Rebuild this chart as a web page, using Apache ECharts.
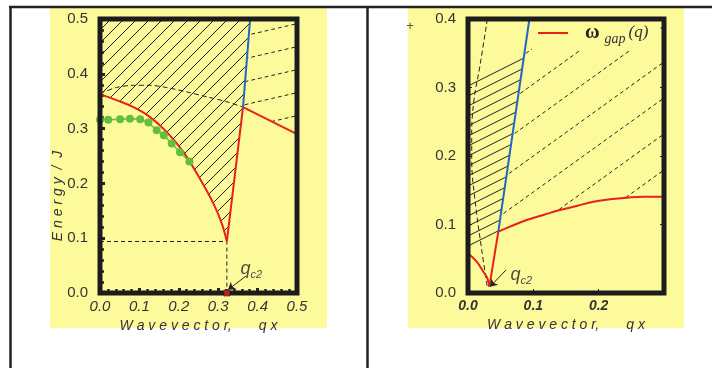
<!DOCTYPE html>
<html>
<head>
<meta charset="utf-8">
<script src="https://cdn.jsdelivr.net/npm/echarts@6/dist/echarts.min.js"></script>
<style>
  html, body { margin: 0; padding: 0; background: #fff; }
  #chart { width: 712px; height: 368px; }
</style>
</head>
<body>
<div id="chart"></div>
<script>
// ---- left panel: qx 0..0.5, energy 0..0.5 ----
const gapLeft = [[0, 0.363], [0.042, 0.352], [0.085, 0.339], [0.127, 0.321], [0.169, 0.294], [0.211, 0.258],
  [0.254, 0.208], [0.288, 0.163], [0.309, 0.127], [0.322, 0.094], [0.363, 0.339], [0.5, 0.29]];
const blueLeft = [[0.363, 0.339], [0.381, 0.5]];
const dashLeft = [[0, 0.364], [0.042, 0.375], [0.085, 0.379], [0.127, 0.379], [0.169, 0.375], [0.22, 0.367],
  [0.271, 0.358], [0.322, 0.349], [0.363, 0.339]];
const greenQ = [0, 0.021, 0.051, 0.076, 0.102, 0.123, 0.144, 0.162, 0.182, 0.203, 0.227];
const greenE = [0.316, 0.316, 0.317, 0.318, 0.317, 0.311, 0.297, 0.288, 0.273, 0.257, 0.240];
const qc2Left = [0.322, 0.094];
const arrowLeft = [[0.3706, 0.031], [0.325, 0.006]];
const labelLeft = [0.3553, 0.0438];

// ---- right panel: qx 0..0.3, energy 0..0.4 ----
const gapRight = [[0, 0.058], [0.0133, 0.0457], [0.0235, 0.0311], [0.0296, 0.0215], [0.0327, 0.0092],
  [0.0464, 0.0895], [0.0643, 0.0968], [0.0898, 0.1066], [0.1153, 0.1139], [0.1408, 0.1212], [0.1664, 0.127],
  [0.1918, 0.1333], [0.2173, 0.1368], [0.2429, 0.1392], [0.2684, 0.1406], [0.3, 0.1406]];
const blueRight = [[0.0464, 0.0895], [0.094, 0.4]];
const dashRight = [[0.0296, 0.4], [0.018, 0.33], [0.0092, 0.282], [0.0057, 0.233], [0.0057, 0.194],
  [0.0107, 0.136], [0.021, 0.063], [0.0295, 0.009]];
const hatchRight = [[0, 0.058], [0.0446, 0.0788], [0.0464, 0.0895], [0.0866, 0.3514], [0, 0.311]];
const arrowRight = [[0.0582, 0.0336], [0.0337, 0.0092]];
const labelRight = [0.0643, 0.0263];

const YELLOW = "#fdfa9c";
const INK = "#222";
const RED = "#e8211d";
const BLUE = "#2168c0";
const GREEN = "#62bf3c";
const FONT = "Liberation Sans";

// hatch tile: line from bottom-left to top-right, repeated
function hatch(w, h, dash, width) {
  const c = document.createElement("canvas");
  c.width = w;
  c.height = h;
  const ctx = c.getContext("2d");
  ctx.strokeStyle = INK;
  ctx.lineWidth = width;
  if (dash) ctx.setLineDash(dash);
  [-1, 0, 1].forEach(function (k) {
    ctx.beginPath();
    ctx.moveTo(-2, h + (2 * h) / w + k * h);
    ctx.lineTo(w + 2, (-2 * h) / w + k * h);
    ctx.stroke();
  });
  return { image: c, repeat: "repeat" };
}

function polySeries(poly, fill, xi) {
  return {
    type: "custom",
    xAxisIndex: xi,
    yAxisIndex: xi,
    z: 1,
    silent: true,
    data: poly,
    encode: { x: 0, y: 1 },
    renderItem: function (params, api) {
      if (params.dataIndex !== 0) return null;
      return {
        type: "polygon",
        shape: { points: poly.map(function (p) { return api.coord(p); }) },
        style: { fill: fill, stroke: null }
      };
    }
  };
}

function lineSeries(data, xi, color, width, type, extra) {
  return Object.assign({
    type: "line",
    xAxisIndex: xi,
    yAxisIndex: xi,
    z: 2,
    data: data,
    showSymbol: false,
    symbol: "none",
    silent: true,
    lineStyle: { color: color, width: width, type: type || "solid" }
  }, extra || {});
}

function arrow(coords, xi) {
  return {
    type: "lines",
    coordinateSystem: "cartesian2d",
    xAxisIndex: xi,
    yAxisIndex: xi,
    z: 3,
    silent: true,
    symbol: ["none", "arrow"],
    symbolSize: 7,
    lineStyle: { color: INK, width: 1, opacity: 1 },
    data: [{ coords: coords }]
  };
}

function qLabel(pos, xi) {
  return {
    type: "scatter",
    xAxisIndex: xi,
    yAxisIndex: xi,
    z: 3,
    silent: true,
    symbolSize: 1,
    itemStyle: { color: "rgba(0,0,0,0)" },
    data: [pos],
    label: {
      show: true,
      position: "right",
      distance: 0,
      formatter: "{q|q}{s|c2}",
      rich: {
        q: { fontFamily: FONT, fontStyle: "italic", fontSize: 18, color: INK, lineHeight: 22, verticalAlign: "middle" },
        s: { fontFamily: FONT, fontStyle: "italic", fontSize: 11, color: INK, lineHeight: 22, verticalAlign: "bottom" }
      }
    }
  };
}

const solidL = hatch(13, 13, null, 1);
const dashedL = hatch(100, 23, [3.8, 3.04], 1);
const solidR = hatch(20, 10, null, 1);
const dashedR = hatch(50, 36, [3.8, 3.04], 1);

const hatchLeft = [[0, 0.5]].concat(gapLeft.slice(0, 11), [blueLeft[1]]);
const dashZoneLeft = [blueLeft[1], [0.5, 0.5], gapLeft[11], gapLeft[10]];
const dashZoneRight = [blueRight[0], blueRight[1], [0.3, 0.4]].concat(gapRight.slice(5).reverse());

const tickLabel = { fontFamily: FONT, fontSize: 15, color: "#333" };
const nameStyle = { fontFamily: FONT, fontStyle: "italic", fontSize: 14, color: "#333" };
const xName = "W a v e v e c t o r,       q x";

const chart = echarts.init(document.getElementById("chart"));

const option = {
  animation: false,
  graphic: [
    { type: "rect", z: -100, shape: { x: 50, y: 8, width: 277, height: 320 }, style: { fill: YELLOW } },
    { type: "rect", z: -100, shape: { x: 408, y: 8, width: 276, height: 320 }, style: { fill: YELLOW } },
    { type: "line", z: 100, shape: { x1: 9, y1: 7, x2: 712, y2: 7 }, style: { stroke: INK, lineWidth: 2.5 } },
    { type: "line", z: 100, shape: { x1: 10.5, y1: 6, x2: 10.5, y2: 368 }, style: { stroke: INK, lineWidth: 2.5 } },
    { type: "line", z: 100, shape: { x1: 367.5, y1: 6, x2: 367.5, y2: 368 }, style: { stroke: INK, lineWidth: 2.5 } },
    {
      type: "text", x: 58, y: 196, rotation: Math.PI / 2,
      style: { text: "E n e r g y  /  J", font: "italic 14px 'Liberation Sans'", fill: "#333", align: "center", verticalAlign: "middle" }
    },
    { type: "text", x: 410, y: 26, style: { text: "+", font: "13px 'Liberation Sans'", fill: "#555", align: "center", verticalAlign: "middle" } }
  ],
  legend: {
    data: ["gapR"],
    selectedMode: false,
    left: 532,
    top: 19,
    z: 4,
    itemWidth: 30,
    itemHeight: 2,
    icon: "rect",
    itemGap: 0,
    padding: [4, 12, 4, 6],
    backgroundColor: YELLOW,
    formatter: function () { return "{w|ω}{g|gap}{q|(q)}"; },
    textStyle: {
      padding: [0, 0, 0, 12],
      rich: {
        w: { fontFamily: "Liberation Serif", fontWeight: "bold", fontSize: 20, color: INK, lineHeight: 26, verticalAlign: "middle" },
        g: { fontFamily: "Liberation Serif", fontStyle: "italic", fontSize: 14, color: "#333", lineHeight: 26, verticalAlign: "bottom", padding: [0, 3, 0, 5] },
        q: { fontFamily: "Liberation Serif", fontStyle: "italic", fontSize: 17, color: "#333", lineHeight: 26, verticalAlign: "middle" }
      }
    }
  },
  grid: [
    { left: 100, top: 19, width: 197, height: 274, show: true, borderWidth: 5, borderColor: "#1c1c1c", backgroundColor: "transparent", z: 5 },
    { left: 468, top: 19, width: 196, height: 274, show: true, borderWidth: 5, borderColor: "#1c1c1c", backgroundColor: "transparent", z: 5 }
  ],
  xAxis: [
    {
      type: "value", gridIndex: 0, min: 0, max: 0.5, interval: 0.1,
      axisLine: { show: false }, splitLine: { show: false },
      axisTick: { inside: true, length: 5, lineStyle: { color: INK, width: 3 } },
      minorTick: { show: true, splitNumber: 5, length: 4, lineStyle: { color: INK, width: 2.5 } },
      axisLabel: Object.assign({}, tickLabel, { fontStyle: "italic", margin: 6, formatter: function (v) { return v.toFixed(1); } }),
      name: xName, nameLocation: "middle", nameGap: 21, nameTextStyle: nameStyle
    },
    {
      type: "value", gridIndex: 1, min: 0, max: 0.3, interval: 0.1,
      axisLine: { show: false }, splitLine: { show: false },
      axisTick: { inside: true, length: 4, lineStyle: { color: INK, width: 1 } },
      minorTick: { show: true, splitNumber: 5, length: 2, lineStyle: { color: INK, width: 1 } },
      axisLabel: Object.assign({}, tickLabel, { fontSize: 14, fontStyle: "italic", fontWeight: "bold", margin: 6, showMaxLabel: false, formatter: function (v) { return v.toFixed(1); } }),
      name: xName, nameLocation: "middle", nameGap: 21, nameTextStyle: nameStyle
    }
  ],
  yAxis: [
    {
      type: "value", gridIndex: 0, min: 0, max: 0.5, interval: 0.1,
      axisLine: { show: false }, splitLine: { show: false },
      axisTick: { inside: true, length: 5, lineStyle: { color: INK, width: 3 } },
      minorTick: { show: true, splitNumber: 5, length: 4, lineStyle: { color: INK, width: 2.5 } },
      axisLabel: Object.assign({}, tickLabel, { margin: 12, formatter: function (v) { return v.toFixed(1); } })
    },
    {
      type: "value", gridIndex: 1, min: 0, max: 0.4, interval: 0.1,
      axisLine: { show: false }, splitLine: { show: false },
      axisTick: { inside: true, length: 4, lineStyle: { color: INK, width: 1 } },
      axisLabel: Object.assign({}, tickLabel, { margin: 12, formatter: function (v) { return v.toFixed(1); } })
    },
    {
      type: "value", gridIndex: 1, position: "right", min: 0, max: 0.4, interval: 0.1,
      axisLine: { show: false }, splitLine: { show: false }, axisLabel: { show: false },
      axisTick: { inside: true, length: 4, lineStyle: { color: INK, width: 1 } }
    }
  ],
  series: [
    // left panel
    polySeries(hatchLeft, solidL, 0),
    polySeries(dashZoneLeft, dashedL, 0),
    lineSeries(dashLeft, 0, INK, 1, [5, 3], { smooth: 0.3 }),
    lineSeries([[0, qc2Left[1]], qc2Left, [qc2Left[0], 0]], 0, INK, 1, [4, 3]),
    lineSeries(gapLeft.slice(0, 10), 0, RED, 2, "solid", { smooth: 0.4 }),
    lineSeries(gapLeft.slice(9), 0, RED, 2),
    lineSeries(blueLeft, 0, BLUE, 2),
    lineSeries(greenQ.map(function (q, i) { return [q, greenE[i]]; }), 0, GREEN, 1.5, "solid", {
      symbol: "circle", showSymbol: true, symbolSize: 8, itemStyle: { color: GREEN }
    }),
    {
      type: "scatter", xAxisIndex: 0, yAxisIndex: 0, z: 6, silent: true,
      symbol: "rect", symbolSize: 6, data: [[qc2Left[0], 0]],
      itemStyle: { color: RED, borderColor: INK, borderWidth: 0.8 }
    },
    arrow(arrowLeft, 0),
    qLabel(labelLeft, 0),
    // right panel
    polySeries(hatchRight, solidR, 1),
    polySeries(dashZoneRight, dashedR, 1),
    lineSeries(dashRight, 1, INK, 1, [5, 3], { smooth: 0.4 }),
    lineSeries(gapRight.slice(0, 5), 1, RED, 2, "solid", { smooth: 0.4 }),
    lineSeries(gapRight.slice(4, 6), 1, RED, 2),
    lineSeries(gapRight.slice(5), 1, RED, 2, "solid", { name: "gapR", smooth: 0.4, itemStyle: { color: RED } }),
    lineSeries(blueRight, 1, BLUE, 2),
    arrow(arrowRight, 1),
    qLabel(labelRight, 1)
  ]
};

chart.setOption(option);
</script>
</body>
</html>
